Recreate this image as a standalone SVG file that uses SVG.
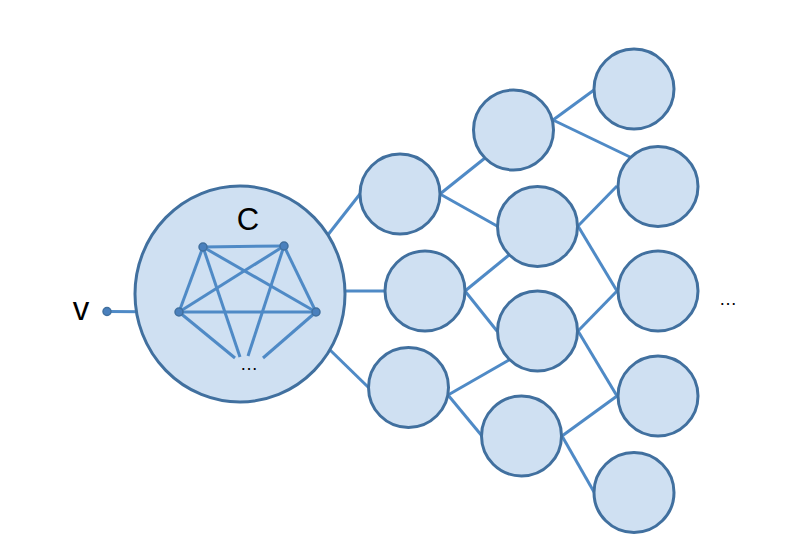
<svg xmlns="http://www.w3.org/2000/svg" width="794" height="546" viewBox="0 0 794 546">
<style>
.n{fill:#CFE0F2;stroke:#41709F;stroke-width:3}
.e{stroke:#4F8AC6;stroke-width:3;fill:none;stroke-linecap:butt}
.d{fill:#4A80BD;stroke:#41709F;stroke-width:1.5}
.t{font-family:"Liberation Sans",Arial,sans-serif;fill:#000}
</style>
<rect width="794" height="546" fill="#fff"/>
<g id="connectors">
<line class="e" x1="107" y1="311.5" x2="179" y2="312"/>
<line class="e" x1="327" y1="236" x2="360" y2="194"/>
<line class="e" x1="344" y1="291" x2="384" y2="291"/>
<line class="e" x1="328" y1="348" x2="368" y2="387"/>
<line class="e" x1="440" y1="194" x2="485" y2="158"/>
<line class="e" x1="440" y1="194" x2="497" y2="226"/>
<line class="e" x1="553" y1="120" x2="594" y2="90"/>
<line class="e" x1="553" y1="120" x2="630" y2="157"/>
<line class="e" x1="578" y1="226" x2="617" y2="186"/>
<line class="e" x1="578" y1="226" x2="617" y2="291"/>
<line class="e" x1="465" y1="291" x2="509" y2="255"/>
<line class="e" x1="465" y1="291" x2="497" y2="331"/>
<line class="e" x1="578" y1="331" x2="617" y2="291"/>
<line class="e" x1="578" y1="331" x2="617" y2="396"/>
<line class="e" x1="448" y1="395" x2="509" y2="360"/>
<line class="e" x1="448" y1="395" x2="482" y2="436"/>
<line class="e" x1="562" y1="436" x2="617" y2="396"/>
<line class="e" x1="562" y1="436" x2="594" y2="492"/>
</g>
<g id="C">
<ellipse class="n" cx="240" cy="294" rx="105" ry="108"/>
<text class="t" x="248" y="230" font-size="31" text-anchor="middle">C</text>
<g id="clique-edges">
<line class="e" x1="203" y1="247" x2="284" y2="246"/>
<line class="e" x1="203" y1="247" x2="179" y2="312"/>
<line class="e" x1="203" y1="247" x2="316" y2="312"/>
<line class="e" x1="284" y1="246" x2="179" y2="312"/>
<line class="e" x1="284" y1="246" x2="316" y2="312"/>
<line class="e" x1="179" y1="312" x2="316" y2="312"/>
<line class="e" x1="179" y1="312" x2="235" y2="358"/>
<line class="e" x1="203" y1="247" x2="240" y2="357"/>
<line class="e" x1="284" y1="246" x2="248" y2="356"/>
<line class="e" x1="316" y1="312" x2="263" y2="358"/>
</g>
<circle class="d" cx="203" cy="247" r="4"/>
<circle class="d" cx="284" cy="246" r="4"/>
<circle class="d" cx="179" cy="312" r="4"/>
<circle class="d" cx="316" cy="312" r="4"/>
<text class="t" x="249" y="370" font-size="18" text-anchor="middle">…</text>
</g>
<g id="v">
<circle class="d" cx="107" cy="311.5" r="4"/>
<text class="t" x="81" y="320" font-size="33" text-anchor="middle">v</text>
</g>
<g id="n1"><circle class="n" cx="400" cy="194" r="40"/></g>
<g id="n2"><circle class="n" cx="425" cy="291" r="40"/></g>
<g id="n3"><circle class="n" cx="408.5" cy="387.5" r="40"/></g>
<g id="n4"><circle class="n" cx="513.5" cy="130" r="40"/></g>
<g id="n5"><circle class="n" cx="537.5" cy="226.5" r="40"/></g>
<g id="n6"><circle class="n" cx="537.5" cy="331" r="40"/></g>
<g id="n7"><circle class="n" cx="521.5" cy="436" r="40"/></g>
<g id="n8"><circle class="n" cx="634" cy="89" r="40"/></g>
<g id="n9"><circle class="n" cx="658" cy="186.5" r="40"/></g>
<g id="n10"><circle class="n" cx="658" cy="291" r="40"/></g>
<g id="n11"><circle class="n" cx="658" cy="396" r="40"/></g>
<g id="n12"><circle class="n" cx="634" cy="492.5" r="40"/></g>
<text class="t" x="728" y="305" font-size="18" text-anchor="middle">…</text>
</svg>
